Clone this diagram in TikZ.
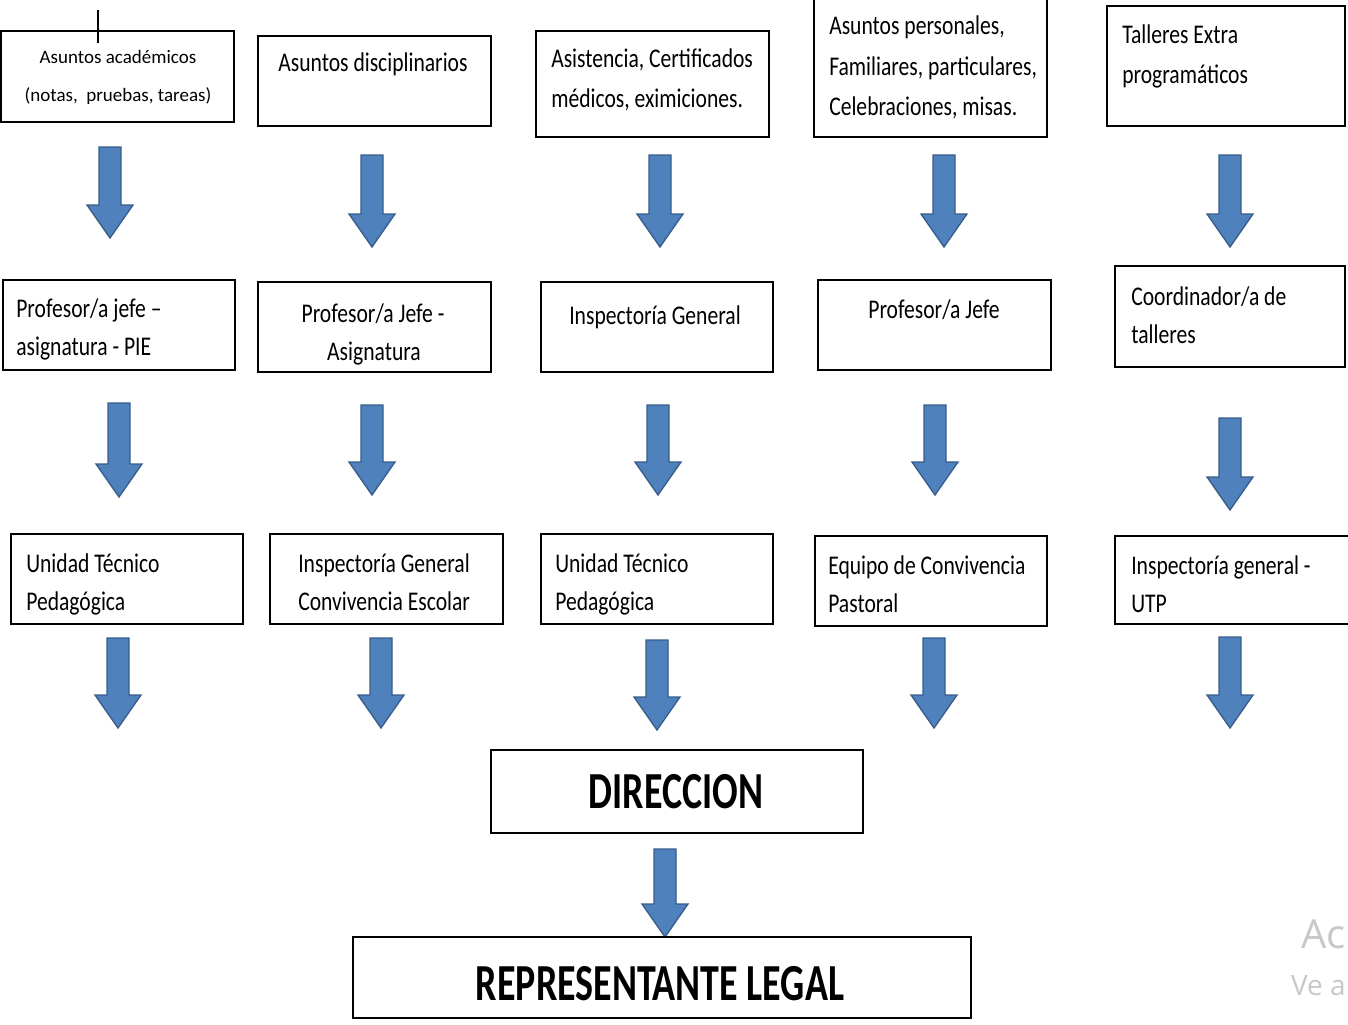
\documentclass[tikz,border=0pt]{standalone}
\usepackage{fontspec}
\setmainfont{Carlito}
\newfontfamily\cnd{Carlito}[FakeStretch=0.8]
\newfontfamily\bcnd{Carlito}[FakeStretch=0.73]
\newfontfamily\wmf{Open Sans}
\definecolor{arrfill}{HTML}{4F81BD}
\definecolor{arrline}{HTML}{385D8A}
\definecolor{wmgray}{HTML}{C8C8C8}
\tikzset{
  box/.style={draw=black, line width=1.1pt, fill=white, inner sep=0pt},
  tx/.style={inner sep=0pt, font=\cnd\fontsize{20.25}{24}\selectfont, text=black},
  txs/.style={inner sep=0pt, font=\fontsize{14.25}{17}\selectfont, text=black},
  big/.style={inner sep=0pt, font=\bcnd\bfseries\fontsize{39}{45}\selectfont, text=black},
  wm/.style={inner sep=0pt, font=\wmf, text=wmgray},
  arrsty/.style={fill=arrfill, draw=arrline, line width=1pt, line join=miter},
  cursor/.style={draw=black, line width=2.2pt}
}
\newcommand\barr[4]{%
  \coordinate (#1) at (#2,#3);
  \draw[arrsty] (#2-11,#3) -- (#2+11,#3) -- (#2+11,#4-33) -- (#2+23,#4-33) -- (#2,#4) -- (#2-23,#4-33) -- (#2-11,#4-33) -- cycle;}
\begin{document}
\begin{tikzpicture}[x=0.75pt,y=-0.75pt]
\useasboundingbox[fill=white] (0,0) rectangle (1348,1024);

% ---------- row 1 ----------
\node[box, minimum width=174.75pt, minimum height=68.25pt] (b1) at (117.5,76.5) {};
\node[box, minimum width=174.75pt, minimum height=67.5pt] (b2) at (374.5,81) {};
\node[box, minimum width=174.75pt, minimum height=79.5pt] (b3) at (652.5,84) {};
\node[box, minimum width=174.75pt, minimum height=106.5pt] (b4) at (930.5,66) {};
\node[box, minimum width=178.5pt, minimum height=90pt] (b5) at (1226,66) {};

\node[txs, anchor=base] (b1a) at (118,64) {Asuntos académicos};
\node[txs, anchor=base] (b1b) at (118,101) {(notas,\ \ pruebas, tareas)};
\node[tx, anchor=base] (b2a) at (373,71) {Asuntos disciplinarios};
\node[tx, anchor=base west] (b3a) at (551,68) {Asistencia, Certificados};
\node[tx, anchor=base west] (b3b) at (551,108) {médicos, eximiciones.};
\node[tx, anchor=base west] (b4a) at (829,35) {Asuntos personales,};
\node[tx, anchor=base west] (b4b) at (829,75) {Familiares, particulares,};
\node[tx, anchor=base west] (b4c) at (829,115) {Celebraciones, misas.};
\node[tx, anchor=base west] (b5a) at (1122,44) {Talleres Extra};
\node[tx, anchor=base west] (b5b) at (1122,84) {programáticos};

\coordinate (cur1) at (98,10);
\coordinate (cur2) at (98,43);
\draw[cursor] (cur1) -- (cur2);

% ---------- arrows row 1 ----------
\barr{a11}{110}{147}{238}
\barr{a12}{372}{155}{247}
\barr{a13}{660}{155}{247}
\barr{a14}{944}{155}{247}
\barr{a15}{1230}{155}{247}

% ---------- row 2 ----------
\node[box, minimum width=174pt, minimum height=67.5pt] (c1) at (119,325) {};
\node[box, minimum width=174.75pt, minimum height=67.5pt] (c2) at (374.5,327) {};
\node[box, minimum width=174pt, minimum height=67.5pt] (c3) at (657,327) {};
\node[box, minimum width=174.75pt, minimum height=67.5pt] (c4) at (934.5,325) {};
\node[box, minimum width=172.5pt, minimum height=75.75pt] (c5) at (1230,316.5) {};

\node[tx, anchor=base west] (c1a) at (16,317) {Profesor/a jefe –};
\node[tx, anchor=base west] (c1b) at (16,355) {asignatura - PIE};
\node[tx, anchor=base] (c2a) at (373,322) {Profesor/a Jefe -};
\node[tx, anchor=base] (c2b) at (374,360) {Asignatura};
\node[tx, anchor=base] (c3a) at (655,324) {Inspectoría General};
\node[tx, anchor=base] (c4a) at (934,318) {Profesor/a Jefe};
\node[tx, anchor=base west] (c5a) at (1131,305) {Coordinador/a de};
\node[tx, anchor=base west] (c5b) at (1131,343) {talleres};

% ---------- arrows row 2 ----------
\barr{a21}{119}{403}{497}
\barr{a22}{372}{405}{495}
\barr{a23}{658}{405}{495}
\barr{a24}{935}{405}{495}
\barr{a25}{1230}{418}{510}

% ---------- row 3 ----------
\node[box, minimum width=174pt, minimum height=67.5pt] (d1) at (127,579) {};
\node[box, minimum width=174.75pt, minimum height=67.5pt] (d2) at (386.5,579) {};
\node[box, minimum width=174pt, minimum height=67.5pt] (d3) at (657,579) {};
\node[box, minimum width=174pt, minimum height=67.5pt] (d4) at (931,581) {};
\node[box, minimum width=183.75pt, minimum height=66pt] (d5) at (1237.5,580) {};

\node[tx, anchor=base west] (d1a) at (26,572) {Unidad Técnico};
\node[tx, anchor=base west] (d1b) at (26,610) {Pedagógica};
\node[tx, anchor=base west] (d2a) at (298,572) {Inspectoría General};
\node[tx, anchor=base west] (d2b) at (298,610) {Convivencia Escolar};
\node[tx, anchor=base west] (d3a) at (555,572) {Unidad Técnico};
\node[tx, anchor=base west] (d3b) at (555,610) {Pedagógica};
\node[tx, anchor=base west] (d4a) at (828,574) {Equipo de Convivencia};
\node[tx, anchor=base west] (d4b) at (828,612) {Pastoral};
\node[tx, anchor=base west] (d5a) at (1131,574) {Inspectoría general -};
\node[tx, anchor=base west] (d5b) at (1131,612) {UTP};

% ---------- arrows row 3 ----------
\barr{a31}{118}{638}{728}
\barr{a32}{381}{638}{728}
\barr{a33}{657}{640}{730}
\barr{a34}{934}{638}{728}
\barr{a35}{1230}{637}{728}

% ---------- bottom ----------
\node[box, minimum width=279pt, minimum height=62.25pt] (e) at (677,791.5) {};
\node[big, anchor=base] (ea) at (676,808) {DIRECCION};
\barr{a41}{665}{849}{937}
\node[box, minimum width=463.5pt, minimum height=60.75pt] (f) at (662,977.5) {};
\node[big, anchor=base] (fa) at (660,1000) {REPRESENTANTE LEGAL};

% ---------- watermark ----------
\node[wm, anchor=base east, font=\wmf\fontsize{30}{34}\selectfont] (w1) at (1346,948) {Ac};
\node[wm, anchor=base east, font=\wmf\fontsize{21}{24}\selectfont] (w2) at (1346,995) {Ve a};
\end{tikzpicture}
\end{document}
